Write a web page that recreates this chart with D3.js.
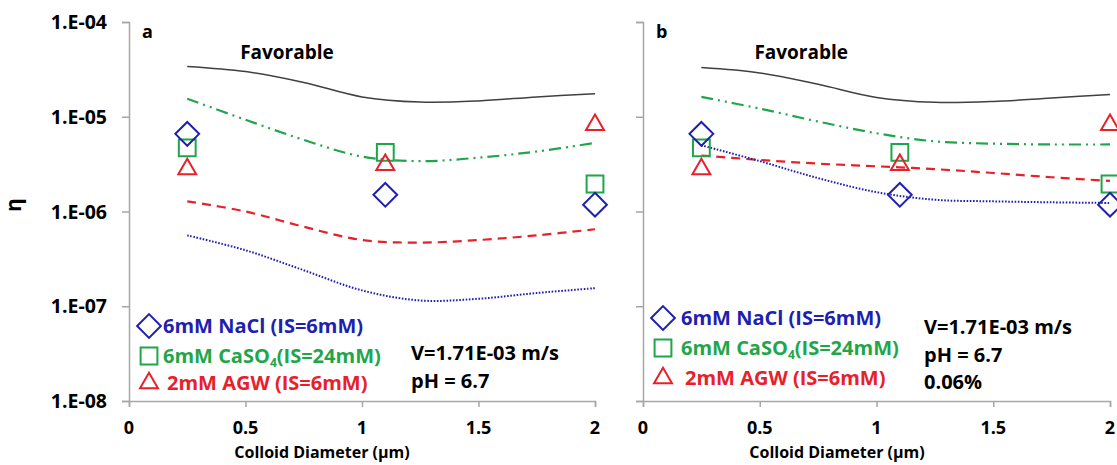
<!DOCTYPE html>
<html>
    <head>
        <meta charset="utf-8" />
        <title>Colloid attachment efficiency</title>
        <script src="https://d3js.org/d3.v7.min.js"></script>
        <style>
            body {
                margin: 0px;
                background: white;
            }
            text {
                font-family: "Open Sans", Lato, sans-serif;
                font-weight: 700;
            }
        </style>
    </head>
    <body>
        <svg id="chart"></svg>
        <script>

        var width = 1117;
        var height = 465;

        // x positions of the model curves (colloid diameter, um)
        var curveX = [0.25, 0.5, 0.75, 1, 1.25, 1.5, 1.75, 2];

        // panel a curves
        var favA   = [3.4e-5, 3.0e-5, 2.3e-5, 1.62e-5, 1.43e-5, 1.47e-5, 1.62e-5, 1.75e-5];
        var caso4A = [1.55e-5, 9.3e-6, 5.7e-6, 3.8e-6, 3.4e-6, 3.7e-6, 4.3e-6, 5.3e-6];
        var agwA   = [1.28e-6, 1.0e-6, 6.9e-7, 5.0e-7, 4.7e-7, 5.0e-7, 5.6e-7, 6.5e-7];
        var naclA  = [5.6e-7, 3.9e-7, 2.4e-7, 1.47e-7, 1.15e-7, 1.2e-7, 1.38e-7, 1.55e-7];

        // panel b curves
        var favB   = [3.3e-5, 2.9e-5, 2.2e-5, 1.6e-5, 1.42e-5, 1.45e-5, 1.58e-5, 1.72e-5];
        var caso4B = [1.62e-5, 1.22e-5, 8.9e-6, 6.7e-6, 5.5e-6, 5.2e-6, 5.1e-6, 5.1e-6];
        var agwB   = [3.9e-6, 3.5e-6, 3.2e-6, 3.0e-6, 2.8e-6, 2.55e-6, 2.3e-6, 2.1e-6];
        var naclB  = [5.0e-6, 3.4e-6, 2.25e-6, 1.6e-6, 1.33e-6, 1.28e-6, 1.25e-6, 1.23e-6];

        // measured points (same in both panels)
        var pointX = [0.25, 1.1, 2];
        var naclPts  = [6.6e-6, 1.5e-6, 1.18e-6];
        var caso4Pts = [4.7e-6, 4.2e-6, 1.95e-6];
        var agwPts   = [2.8e-6, 3.1e-6, 8.2e-6];

        var xTicks = [0, 0.5, 1, 1.5, 2];
        var yTicks = [1e-8, 1e-7, 1e-6, 1e-5, 1e-4];
        var yTickLabels = ["1.E-08", "1.E-07", "1.E-06", "1.E-05", "1.E-04"];

        var blue = "#1f1fb0";
        var green = "#1fa64a";
        var red = "#e8202a";
        var dark = "#404040";
        var axisGray = "#a6a6a6";

        var svg = d3.select("#chart")
            .attr("width", width)
            .attr("height", height);

        function drawPanel(opts) {
            var x = d3.scaleLinear().domain([0, 2]).range([opts.left, opts.right]);
            var y = d3.scaleLog().domain([1e-8, 1e-4]).range([401, 22]);
            var g = svg.append("g");

            // axes
            var xAxis = d3.axisBottom(x).tickValues(xTicks).tickSize(6).tickFormat("");
            g.append("g")
                .attr("transform", "translate(0,401)")
                .call(xAxis)
                .call(function(s) {
                    s.select(".domain").attr("stroke", axisGray).attr("stroke-width", 1.5);
                    s.selectAll(".tick line").attr("stroke", axisGray).attr("stroke-width", 1.5);
                });
            var yAxis = d3.axisLeft(y).tickValues(yTicks).tickSize(7).tickFormat("");
            g.append("g")
                .attr("transform", "translate(" + opts.left + ",0)")
                .call(yAxis)
                .call(function(s) {
                    s.select(".domain").attr("stroke", axisGray).attr("stroke-width", 1.5);
                    s.selectAll(".tick line").attr("stroke", axisGray).attr("stroke-width", 1.5);
                });

            g.selectAll(".xlab")
                .data(xTicks)
                .enter().append("text")
                .attr("x", function(d) { return x(d); })
                .attr("y", 434)
                .attr("text-anchor", "middle")
                .attr("font-size", 18)
                .text(function(d) { return d; });

            if (opts.yLabels) {
                g.selectAll(".ylab")
                    .data(yTicks)
                    .enter().append("text")
                    .attr("x", opts.left - 22)
                    .attr("y", function(d) { return y(d) + 7; })
                    .attr("text-anchor", "end")
                    .attr("font-size", 19.5)
                    .text(function(d, i) { return yTickLabels[i]; });
                g.append("text")
                    .attr("transform", "translate(21,205) rotate(-90)")
                    .attr("text-anchor", "middle")
                    .attr("font-size", 21)
                    .attr("font-weight", 400)
                    .text("η");
            }

            g.append("text")
                .attr("x", opts.titleX)
                .attr("y", 458)
                .attr("text-anchor", "middle")
                .attr("font-size", 16)
                .text("Colloid Diameter (µm)");

            g.append("text")
                .attr("x", opts.left + 13)
                .attr("y", 38)
                .attr("font-size", 18)
                .text(opts.letter);

            g.append("text")
                .attr("x", x(0.477))
                .attr("y", 59)
                .attr("font-size", 19)
                .text("Favorable");

            // curves
            var line = d3.line()
                .x(function(d) { return x(d[0]); })
                .y(function(d) { return y(d[1]); })
                .curve(d3.curveCatmullRom.alpha(0.5));

            var curves = [
                {vals: opts.fav, color: dark, width: 1.5, dash: null},
                {vals: opts.caso4, color: green, width: 2.2, dash: "12,5,2,5,2,5"},
                {vals: opts.agw, color: red, width: 2.2, dash: "9,6"},
                {vals: opts.nacl, color: blue, width: 2, dash: "1.6,1.6"}
            ];
            curves.forEach(function(c) {
                g.append("path")
                    .datum(d3.zip(curveX, c.vals))
                    .attr("d", line)
                    .attr("fill", "none")
                    .attr("stroke", c.color)
                    .attr("stroke-width", c.width)
                    .attr("stroke-dasharray", c.dash);
            });

            // markers
            var diamond = d3.symbol().type(d3.symbolDiamond2).size(360);
            var square = d3.symbol().type(d3.symbolSquare2).size(360);
            var triangle = d3.symbol().type(d3.symbolTriangle2).size(230);

            function markers(vals, sym, color) {
                g.selectAll(null)
                    .data(d3.zip(pointX, vals))
                    .enter().append("path")
                    .attr("transform", function(d) { return "translate(" + x(d[0]) + "," + y(d[1]) + ")"; })
                    .attr("d", sym)
                    .attr("fill", "none")
                    .attr("stroke", color)
                    .attr("stroke-width", 2);
            }
            markers(caso4Pts, square, green);
            markers(agwPts, triangle, red);
            markers(naclPts, diamond, blue);

            // legend
            var lg = opts.legend;
            var rows = [
                {sym: diamond, color: blue, text: "6mM NaCl (IS=6mM)"},
                {sym: square, color: green, text: "6mM CaSO", sub: "4", tail: "(IS=24mM)"},
                {sym: triangle, color: red, text: "2mM AGW (IS=6mM)"}
            ];
            rows.forEach(function(r, i) {
                var cy = lg.rows[i];
                g.append("path")
                    .attr("transform", "translate(" + lg.mx + "," + cy + ")")
                    .attr("d", r.sym)
                    .attr("fill", "none")
                    .attr("stroke", r.color)
                    .attr("stroke-width", 2);
                var t = g.append("text")
                    .attr("x", lg.tx + (i === 2 ? 4 : 0))
                    .attr("y", cy + 7)
                    .attr("font-size", 20)
                    .attr("fill", r.color)
                    .text(r.text);
                if (r.sub) {
                    t.append("tspan").attr("font-size", 12).attr("dy", 4).text(r.sub);
                    t.append("tspan").attr("dy", -4).text(r.tail);
                }
            });

            opts.notes.forEach(function(n) {
                g.append("text")
                    .attr("x", opts.noteX)
                    .attr("y", n.y)
                    .attr("font-size", 20)
                    .text(n.text);
            });
        }

        drawPanel({
            left: 129, right: 595, titleX: 322, letter: "a", yLabels: true,
            fav: favA, caso4: caso4A, agw: agwA, nacl: naclA,
            legend: {mx: 149, tx: 163, rows: [326, 356, 383]},
            noteX: 411,
            notes: [{y: 360, text: "V=1.71E-03 m/s"}, {y: 388, text: "pH = 6.7"}]
        });

        drawPanel({
            left: 643, right: 1110, titleX: 837, letter: "b", yLabels: false,
            fav: favB, caso4: caso4B, agw: agwB, nacl: naclB,
            legend: {mx: 663, tx: 681, rows: [318, 348, 378]},
            noteX: 924,
            notes: [{y: 334, text: "V=1.71E-03 m/s"}, {y: 362, text: "pH = 6.7"}, {y: 389, text: "0.06%"}]
        });

        </script>
    </body>
</html>
